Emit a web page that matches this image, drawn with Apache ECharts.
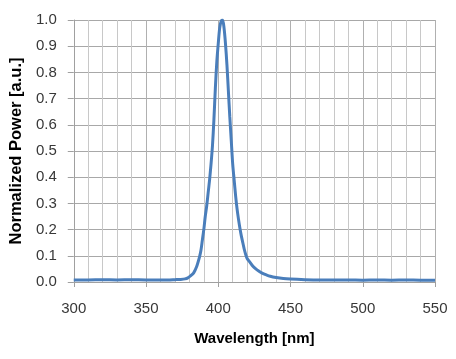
<!DOCTYPE html>
<html>
<head>
<meta charset="utf-8">
<script src="https://cdn.jsdelivr.net/npm/echarts@6/dist/echarts.min.js"></script>
<style>html,body{margin:0;padding:0;background:#fff;}#c{width:456px;height:359px;}</style>
</head>
<body>
<div id="c"></div>
<script>
const wavelengths = [300,310,320,330,340,350,360,365,370,374,377,379,381,383,385,387,388,389,390,391,392,393,394,395,396,397,398,399,400,401,402,403,404,405,406,407,408,409,410,411,412,413,414,415,416,417,418,419,420,422,424,426,428,430,433,436,440,445,450,460,470,480,490,500,510,520,530,540,550];
const power = [0.008,0.008,0.009,0.008,0.009,0.008,0.008,0.008,0.009,0.010,0.012,0.016,0.024,0.035,0.058,0.095,0.12,0.16,0.20,0.25,0.29,0.34,0.39,0.45,0.52,0.62,0.74,0.84,0.91,0.97,0.995,1.0,0.97,0.91,0.83,0.73,0.63,0.54,0.45,0.39,0.33,0.28,0.24,0.205,0.175,0.15,0.125,0.105,0.09,0.075,0.06,0.05,0.042,0.035,0.028,0.022,0.017,0.013,0.011,0.009,0.008,0.008,0.008,0.007,0.008,0.007,0.008,0.007,0.007];
const xTicks = [300,350,400,450,500,550];
const yTicks = [0,0.1,0.2,0.3,0.4,0.5,0.6,0.7,0.8,0.9,1.0];
const xTitle = 'Wavelength [nm]';
const yTitle = 'Normalized Power [a.u.]';

const chart = echarts.init(document.getElementById('c'), null, {renderer:'canvas'});
const font = 'Liberation Sans';
chart.setOption({
  animation:false,
  backgroundColor:'#ffffff',
  grid:{left:71,right:21,top:20,bottom:77},
  xAxis:{
    type:'value', min:xTicks[0], max:xTicks[xTicks.length-1], interval:50,
    name:xTitle, nameLocation:'middle', nameGap:49,
    nameTextStyle:{fontFamily:font,fontSize:15,fontWeight:'bold',color:'#000'},
    axisLine:{show:true,lineStyle:{color:'#a0a0a0',width:1}},
    axisTick:{show:true,length:5,lineStyle:{color:'#a0a0a0'}},
    axisLabel:{margin:19,fontFamily:font,fontSize:15,color:'#383838'},
    splitLine:{show:true,lineStyle:{color:'#b0b0b0',width:1}},
    minorTick:{show:false,splitNumber:5},
    minorSplitLine:{show:true,lineStyle:{color:'#c8c8c8',width:1}}
  },
  yAxis:{
    type:'value', min:yTicks[0], max:yTicks[yTicks.length-1], interval:0.1,
    name:yTitle, nameLocation:'middle', nameGap:42,
    nameTextStyle:{fontFamily:font,fontSize:16.5,fontWeight:'bold',color:'#000'},
    axisLine:{show:true,lineStyle:{color:'#a0a0a0',width:1}},
    axisTick:{show:true,length:6,lineStyle:{color:'#a0a0a0'}},
    axisLabel:{margin:17,fontFamily:font,fontSize:15,color:'#383838',formatter:v=>v.toFixed(1)},
    splitLine:{show:true,lineStyle:{color:'#a8a8a8',width:1}}
  },
  series:[{
    type:'line',
    data:wavelengths.map((w,i)=>[w,power[i]]),
    showSymbol:false, smooth:0.3,
    lineStyle:{color:'#4a7ebb',width:3},
    itemStyle:{color:'#4a7ebb'}
  }]
});
</script>
</body>
</html>
